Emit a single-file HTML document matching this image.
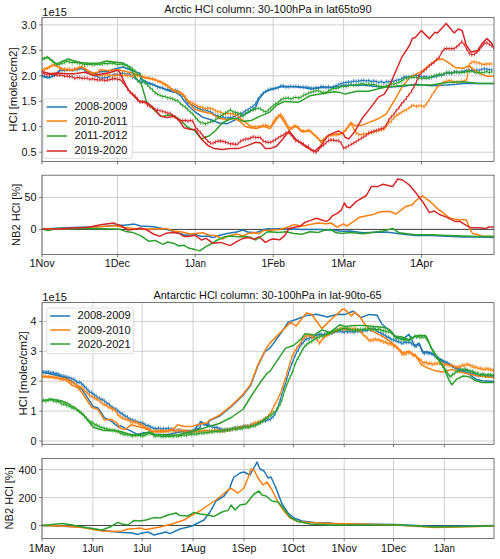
<!DOCTYPE html>
<html><head><meta charset="utf-8"><style>
html,body{margin:0;padding:0;background:#fff;width:500px;height:559px;overflow:hidden}
svg{display:block}
text{font-family:"Liberation Sans",sans-serif;font-size:10.3px;fill:#111}
</style></head><body>
<svg width="500" height="559" viewBox="0 0 500 559">
<rect width="500" height="559" fill="#fff"/>
<path d="M42 152.2H494M42 126.7H494M42 101.2H494M42 75.8H494M42 50.4H494M42 24.9H494M42 17.4V161.5M117.4 17.4V161.5M195.3 17.4V161.5M273.2 17.4V161.5M343.6 17.4V161.5M421.5 17.4V161.5" stroke="#c4c4c4" stroke-width="0.8" fill="none"/>
<clipPath id="c1"><rect x="42" y="17.4" width="452" height="144.1"/></clipPath><g clip-path="url(#c1)">
<path d="M42 76.2 48.4 77.8 54.8 75.4 59.6 70.6 66 69.8 74 69.8 82 68.2 86.8 70.6 94.8 73.8 100 71.8 108 71.4 112.8 69.4 123.2 67 128 69 133.6 71 140 73.4 140.8 79 147.2 82.2 155.2 85.4 163.2 88.6 169.6 91 176 92.6 180.8 95.8 184 100.6 188.8 106.2 195 111.8 203 117.4 211 119.8 219 123 227 123.8 235 119.8 243 115 249.4 111.8 255.8 107 259 99 263.8 92.9 270 89.7 281.2 86.5 294 86.8 302 87.3 311.6 88.9 321.2 87.5 330.8 87.5 340.4 86.2 345 85.3 364.6 85.3 384.3 87.2 403.9 86.3 415 84.2 431 85.8 447 85 456.6 84.2 463 83.4 479 83.4 493.7 83.4" stroke="#1f77b4" stroke-width="1.5" fill="none" stroke-linejoin="round" stroke-linecap="square"/>
<path d="M42 75.9 44.5 76.3 47 77.2 49.5 76.7 52.1 76.5 54.6 75.3 57.1 73.7 59.6 70.1 62.1 70.5 64.6 70.4 67.1 70.4 69.6 69.6 72.2 70.1 74.7 69.4 77.2 69.8 79.7 68.6 82.2 68.1 84.7 70.1 87.2 72.4 89.8 72.7 92.3 73.7 94.8 75.7 97.3 76.4 99.8 77.8 102.3 78.1 104.8 77.6 107.3 77.7 109.9 75.7 112.4 75.3 114.9 74.2 117.4 74.5 119.9 74.1 122.4 72.9 124.9 73.8 127.5 74.4 130 73.7 132.5 76.9 135 78 137.5 80.7 140 80.8 142.5 81.7 145 82.8 147.6 83.8 150.1 84 152.6 84.5 155.1 85.5 157.6 87 160.1 87.5 162.6 87.8 165.2 89.2 167.7 89.4 170.2 89.7 172.7 90.4 175.2 90.2 177.7 90.5 180.2 93.3 182.7 95 185.3 98.4 187.8 102.5 190.3 104 192.8 105.6 195.3 106.7 197.8 108 200.3 109.3 202.9 109.9 205.4 110.3 207.9 110.9 210.4 111.8 212.9 113.3 215.4 115.4 217.9 115.7 220.4 117.5 223 116.9 225.5 118.3 228 117.6 230.5 117.9 233 117.1 235.5 115.7 238 114.5 240.6 113.7 243.1 112.6 245.6 110.8 248.1 109.6 250.6 107.9 253.1 106.2 255.6 103.8 258.1 98.7 260.7 95.9 263.2 92.9 265.7 91.6 268.2 89.8 270.7 89.1 273.2 88.9 275.7 88.3 278.3 87.7 280.8 86 283.3 85.8 285.8 86.9 288.3 86.8 290.8 86.3 293.3 86.5 295.8 86.4 298.4 86.6 300.9 87.2 303.4 87.2 305.9 87 308.4 87.6 310.9 87.9 313.4 88.4 316 87.5 318.5 88 321 86.5 323.5 86.8 326 87.4 328.5 86.8 331 87.6 333.5 86.8 336.1 85.6 338.6 84.8 341.1 83.6 343.6 83 346.1 82.4 348.6 82.1 351.1 82 353.7 81 356.2 81.2 358.7 81.1 361.2 80.5 363.7 80.2 366.2 81.1 368.7 80.5 371.2 81.5 373.8 80.9 376.3 81.5 378.8 82.4 381.3 81.6 383.8 82.9 386.3 81.5 388.8 81.7 391.4 81.2 393.9 81.3 396.4 80.3 398.9 79.8 401.4 79 403.9 76.9 406.4 77.1 408.9 76.8 411.5 76.7 414 75.7 416.5 75.1 419 75.7 421.5 77.3 424 76.6 426.5 77.1 429.1 77.3 431.6 77.5 434.1 76.4 436.6 76.5 439.1 75 441.6 75.5 444.1 73.9 446.6 73.2 449.2 73.2 451.7 73.1 454.2 71.9 456.7 72.3 459.2 72.2 461.7 71.4 464.2 71.1 466.8 70.4 469.3 70.9 471.8 70 474.3 70.8 476.8 69.7 479.3 70.3 481.8 69.2 484.3 68.8 486.9 69.1 489.4 69.7 491.9 69.7" stroke="#1f77b4" stroke-width="1.1" fill="none" stroke-linejoin="round"/>
<path d="M42 73.9v4M44.5 74.3v4M47 75.2v4M49.5 74.7v4M52.1 74.5v4M54.6 73.3v4M57.1 71.7v4M59.6 68.1v4M62.1 68.5v4M64.6 68.4v4M67.1 68.4v4M69.6 67.6v4M72.2 68.1v4M74.7 67.4v4M77.2 67.8v4M79.7 66.6v4M82.2 66.1v4M84.7 68.1v4M87.2 70.4v4M89.8 70.7v4M92.3 71.7v4M94.8 73.7v4M97.3 74.4v4M99.8 75.8v4M102.3 76.1v4M104.8 75.6v4M107.3 75.7v4M109.9 73.7v4M112.4 73.3v4M114.9 72.2v4M117.4 72.5v4M119.9 72.1v4M122.4 70.9v4M124.9 71.8v4M127.5 72.4v4M130 71.7v4M132.5 74.9v4M135 76v4M137.5 78.7v4M140 78.8v4M142.5 79.7v4M145 80.8v4M147.6 81.8v4M150.1 82v4M152.6 82.5v4M155.1 83.5v4M157.6 85v4M160.1 85.5v4M162.6 85.8v4M165.2 87.2v4M167.7 87.4v4M170.2 87.7v4M172.7 88.4v4M175.2 88.2v4M177.7 88.5v4M180.2 91.3v4M182.7 93v4M185.3 96.4v4M187.8 100.5v4M190.3 102v4M192.8 103.6v4M195.3 104.7v4M197.8 106v4M200.3 107.3v4M202.9 107.9v4M205.4 108.3v4M207.9 108.9v4M210.4 109.8v4M212.9 111.3v4M215.4 113.4v4M217.9 113.7v4M220.4 115.5v4M223 114.9v4M225.5 116.3v4M228 115.6v4M230.5 115.9v4M233 115.1v4M235.5 113.7v4M238 112.5v4M240.6 111.7v4M243.1 110.6v4M245.6 108.8v4M248.1 107.6v4M250.6 105.9v4M253.1 104.2v4M255.6 101.8v4M258.1 96.7v4M260.7 93.9v4M263.2 90.9v4M265.7 89.6v4M268.2 87.8v4M270.7 87.1v4M273.2 86.9v4M275.7 86.3v4M278.3 85.7v4M280.8 84v4M283.3 83.8v4M285.8 84.9v4M288.3 84.8v4M290.8 84.3v4M293.3 84.5v4M295.8 84.4v4M298.4 84.6v4M300.9 85.2v4M303.4 85.2v4M305.9 85v4M308.4 85.6v4M310.9 85.9v4M313.4 86.4v4M316 85.5v4M318.5 86v4M321 84.5v4M323.5 84.8v4M326 85.4v4M328.5 84.8v4M331 85.6v4M333.5 84.8v4M336.1 83.6v4M338.6 82.8v4M341.1 81.6v4M343.6 81v4M346.1 80.4v4M348.6 80.1v4M351.1 80v4M353.7 79v4M356.2 79.2v4M358.7 79.1v4M361.2 78.5v4M363.7 78.2v4M366.2 79.1v4M368.7 78.5v4M371.2 79.5v4M373.8 78.9v4M376.3 79.5v4M378.8 80.4v4M381.3 79.6v4M383.8 80.9v4M386.3 79.5v4M388.8 79.7v4M391.4 79.2v4M393.9 79.3v4M396.4 78.3v4M398.9 77.8v4M401.4 77v4M403.9 74.9v4M406.4 75.1v4M408.9 74.8v4M411.5 74.7v4M414 73.7v4M416.5 73.1v4M419 73.7v4M421.5 75.3v4M424 74.6v4M426.5 75.1v4M429.1 75.3v4M431.6 75.5v4M434.1 74.4v4M436.6 74.5v4M439.1 73v4M441.6 73.5v4M444.1 71.9v4M446.6 71.2v4M449.2 71.2v4M451.7 71.1v4M454.2 69.9v4M456.7 70.3v4M459.2 70.2v4M461.7 69.4v4M464.2 69.1v4M466.8 68.4v4M469.3 68.9v4M471.8 68v4M474.3 68.8v4M476.8 67.7v4M479.3 68.3v4M481.8 67.2v4M484.3 66.8v4M486.9 67.1v4M489.4 67.7v4M491.9 67.7v4" stroke="#1f77b4" stroke-width="0.9" fill="none" stroke-opacity="0.85"/>
<path d="M42 70.6 46.8 68.2 53.2 65 58 66.6 62.8 69 69.2 70.3 75.6 69 82 66.6 86.8 69.8 91.6 73 98 72.2 100 69.8 108 70.6 117.6 69.8 124 71 132 73 140 75.8 144 77.4 152 79 160 81.4 166.4 84.6 172.8 90.2 180.8 92.6 185.6 98.2 190.4 104.6 195 109.4 203 111.8 211 113.4 219 118.2 227 119.8 233.4 118.2 239.8 121.4 246.2 127 255.8 128.6 263.8 126.2 270 128.6 279.6 115 289.2 130.2 295.6 126.2 302 131.8 310 131 321.2 141.4 329.2 135 340.4 133.4 345 131.4 350.9 122.6 354.8 125.6 360.7 125.6 368.6 122.6 378.4 118.7 386.3 113.8 394.1 101 402 87.2 409.8 77.4 415 74.6 423 70.6 429.4 65 435.8 60.2 442.2 58.9 448.6 62.6 455 67.4 463 68.2 469.4 65.8 474.2 69.8 480.6 73.8 487 76.2 493.7 76.2" stroke="#ff7f0e" stroke-width="1.5" fill="none" stroke-linejoin="round" stroke-linecap="square"/>
<path d="M42 69.9 44.5 69.2 47 68.6 49.5 67.2 52.1 65.4 54.6 65 57.1 65.8 59.6 68.1 62.1 69.3 64.6 69.2 67.1 69.3 69.6 69.6 72.2 70.2 74.7 69 77.2 68.5 79.7 67.2 82.2 67.3 84.7 68.2 87.2 70.7 89.8 72.3 92.3 73.6 94.8 74.2 97.3 74.7 99.8 75.7 102.3 74.8 104.8 75 107.3 74.8 109.9 75.3 112.4 76 114.9 75.4 117.4 75.3 119.9 74.9 122.4 76 124.9 75.2 127.5 75.6 130 75.8 132.5 76.3 135 75.8 137.5 75.5 140 75.7 142.5 76.6 145 77.2 147.6 77.6 150.1 78.3 152.6 78.9 155.1 79.5 157.6 81.2 160.1 81.9 162.6 83.3 165.2 85.1 167.7 86.3 170.2 87.6 172.7 90 175.2 91.1 177.7 92 180.2 93 182.7 94.1 185.3 96.9 187.8 100.7 190.3 102.1 192.8 103.6 195.3 104.5 197.8 106.2 200.3 107.2 202.9 107.4 205.4 108.9 207.9 107.8 210.4 108.8 212.9 108.9 215.4 110.8 217.9 111.6 220.4 111.9 223 113.6 225.5 113.9 228 113 230.5 113.9 233 113.9 235.5 114.3 238 115.9 240.6 118.5 243.1 120.6 245.6 122 248.1 124.5 250.6 126.5 253.1 126.6 255.6 126.7 258.1 126.4 260.7 126.4 263.2 125.3 265.7 125.2 268.2 125.9 270.7 126.9 273.2 121.8 275.7 118.2 278.3 116 280.8 114.4 283.3 117.6 285.8 122.1 288.3 126.8 290.8 128.3 293.3 126.6 295.8 125.6 298.4 127.3 300.9 130.4 303.4 130.9 305.9 131.3 308.4 130 310.9 131.5 313.4 134.2 316 136.4 318.5 138.8 321 142.5 323.5 140 326 137.7 328.5 136.1 331 135.4 333.5 134.8 336.1 135.1 338.6 134.6 341.1 134 343.6 131.8 346.1 129.5 348.6 126 351.1 123.5 353.7 128.7 356.2 133.1 358.7 134.4 361.2 134.7 363.7 133.7 366.2 134 368.7 133.6 371.2 132.5 373.8 131.9 376.3 131.2 378.8 129.5 381.3 130 383.8 129.2 386.3 126.7 388.8 122.8 391.4 121.1 393.9 117.9 396.4 115.3 398.9 114 401.4 112.5 403.9 110.8 406.4 109.9 408.9 108.2 411.5 106 414 105.4 416.5 106.4 419 105.7 421.5 105.8 424 106.8 426.5 103.9 429.1 100.1 431.6 95.7 434.1 91.9 436.6 88.2 439.1 85.3 441.6 83.8 444.1 81.5 446.6 81.2 449.2 80.5 451.7 81 454.2 81.8 456.7 82 459.2 81.7 461.7 81.3 464.2 80.9 466.8 79.6 469.3 64.5 471.8 62.1 474.3 61.7 476.8 62.8 479.3 63.1 481.8 64.3 484.3 64.4 486.9 63.9 489.4 64 491.9 64" stroke="#ff7f0e" stroke-width="1.1" fill="none" stroke-linejoin="round"/>
<path d="M42 67.9v4M44.5 67.2v4M47 66.6v4M49.5 65.2v4M52.1 63.4v4M54.6 63v4M57.1 63.8v4M59.6 66.1v4M62.1 67.3v4M64.6 67.2v4M67.1 67.3v4M69.6 67.6v4M72.2 68.2v4M74.7 67v4M77.2 66.5v4M79.7 65.2v4M82.2 65.3v4M84.7 66.2v4M87.2 68.7v4M89.8 70.3v4M92.3 71.6v4M94.8 72.2v4M97.3 72.7v4M99.8 73.7v4M102.3 72.8v4M104.8 73v4M107.3 72.8v4M109.9 73.3v4M112.4 74v4M114.9 73.4v4M117.4 73.3v4M119.9 72.9v4M122.4 74v4M124.9 73.2v4M127.5 73.6v4M130 73.8v4M132.5 74.3v4M135 73.8v4M137.5 73.5v4M140 73.7v4M142.5 74.6v4M145 75.2v4M147.6 75.6v4M150.1 76.3v4M152.6 76.9v4M155.1 77.5v4M157.6 79.2v4M160.1 79.9v4M162.6 81.3v4M165.2 83.1v4M167.7 84.3v4M170.2 85.6v4M172.7 88v4M175.2 89.1v4M177.7 90v4M180.2 91v4M182.7 92.1v4M185.3 94.9v4M187.8 98.7v4M190.3 100.1v4M192.8 101.6v4M195.3 102.5v4M197.8 104.2v4M200.3 105.2v4M202.9 105.4v4M205.4 106.9v4M207.9 105.8v4M210.4 106.8v4M212.9 106.9v4M215.4 108.8v4M217.9 109.6v4M220.4 109.9v4M223 111.6v4M225.5 111.9v4M228 111v4M230.5 111.9v4M233 111.9v4M235.5 112.3v4M238 113.9v4M240.6 116.5v4M243.1 118.6v4M245.6 120v4M248.1 122.5v4M250.6 124.5v4M253.1 124.6v4M255.6 124.7v4M258.1 124.4v4M260.7 124.4v4M263.2 123.3v4M265.7 123.2v4M268.2 123.9v4M270.7 124.9v4M273.2 119.8v4M275.7 116.2v4M278.3 114v4M280.8 112.4v4M283.3 115.6v4M285.8 120.1v4M288.3 124.8v4M290.8 126.3v4M293.3 124.6v4M295.8 123.6v4M298.4 125.3v4M300.9 128.4v4M303.4 128.9v4M305.9 129.3v4M308.4 128v4M310.9 129.5v4M313.4 132.2v4M316 134.4v4M318.5 136.8v4M321 140.5v4M323.5 138v4M326 135.7v4M328.5 134.1v4M331 133.4v4M333.5 132.8v4M336.1 133.1v4M338.6 132.6v4M341.1 132v4M343.6 129.8v4M346.1 127.5v4M348.6 124v4M351.1 121.5v4M353.7 126.7v4M356.2 131.1v4M358.7 132.4v4M361.2 132.7v4M363.7 131.7v4M366.2 132v4M368.7 131.6v4M371.2 130.5v4M373.8 129.9v4M376.3 129.2v4M378.8 127.5v4M381.3 128v4M383.8 127.2v4M386.3 124.7v4M388.8 120.8v4M391.4 119.1v4M393.9 115.9v4M396.4 113.3v4M398.9 112v4M401.4 110.5v4M403.9 108.8v4M406.4 107.9v4M408.9 106.2v4M411.5 104v4M414 103.4v4M416.5 104.4v4M419 103.7v4M421.5 103.8v4M424 104.8v4M426.5 101.9v4M429.1 98.1v4M431.6 93.7v4M434.1 89.9v4M436.6 86.2v4M439.1 83.3v4M441.6 81.8v4M444.1 79.5v4M446.6 79.2v4M449.2 78.5v4M451.7 79v4M454.2 79.8v4M456.7 80v4M459.2 79.7v4M461.7 79.3v4M464.2 78.9v4M466.8 77.6v4M469.3 62.5v4M471.8 60.1v4M474.3 59.7v4M476.8 60.8v4M479.3 61.1v4M481.8 62.3v4M484.3 62.4v4M486.9 61.9v4M489.4 62v4M491.9 62v4" stroke="#ff7f0e" stroke-width="0.9" fill="none" stroke-opacity="0.85"/>
<path d="M42 59.4 47.6 57 51.6 60.2 56.4 64.2 61.2 61.8 68.4 59 74 61 80.4 62.6 90 63.4 100 63 106.4 61 116 62.2 123.2 63 128 66.2 132 71 136 78.2 140 83 140.8 82.2 144 93.4 146.4 101.4 152 107.8 158.4 114.2 162.4 116.6 168 115 174.4 115.8 180.8 120.6 187.2 127 193.6 130.2 195 131 201.4 139 209.4 135.8 215.8 130.2 222.2 123 230.2 119 236.6 118.2 243 121.4 251 120.6 259 116.6 267 113.4 270 111.8 276.4 105.4 284.4 101.4 298.8 102.2 310 95.8 322.8 93.4 334 91.8 340.4 92.6 345 94.1 356.8 91.2 368.6 91.2 384.3 87.2 403.9 85.3 415 85 431 85 447 82.6 463 81.8 479 83.4 493.7 83.4" stroke="#2ca02c" stroke-width="1.5" fill="none" stroke-linejoin="round" stroke-linecap="square"/>
<path d="M42 58.7 44.5 58.4 47 57.6 49.5 58.8 52.1 61.2 54.6 63.3 57.1 64.4 59.6 64.1 62.1 63.4 64.6 62.4 67.1 61.3 69.6 61.9 72.2 62.7 74.7 62.1 77.2 62.8 79.7 63.3 82.2 63.8 84.7 64.8 87.2 64.4 89.8 64.3 92.3 64.8 94.8 64.6 97.3 64.2 99.8 64 102.3 64.1 104.8 63.2 107.3 63.7 109.9 62.9 112.4 63.1 114.9 63.8 117.4 64.5 119.9 64.3 122.4 64.3 124.9 65.3 127.5 65.8 130 67.1 132.5 68.8 135 71.2 137.5 74 140 74.4 142.5 80.4 145 82.3 147.6 85.2 150.1 88 152.6 89.9 155.1 92.8 157.6 94.2 160.1 95.3 162.6 96.4 165.2 96.5 167.7 97.9 170.2 98 172.7 98.8 175.2 100.2 177.7 100.7 180.2 103.3 182.7 105.5 185.3 107 187.8 109.5 190.3 112.1 192.8 113.8 195.3 117.5 197.8 119.9 200.3 122.7 202.9 122.8 205.4 124 207.9 122.9 210.4 121.7 212.9 121.7 215.4 119.9 217.9 117.8 220.4 116 223 114.7 225.5 112.9 228 111.4 230.5 109.7 233 111.8 235.5 112.4 238 113.1 240.6 114.2 243.1 116.2 245.6 113.5 248.1 111.9 250.6 110.8 253.1 110.1 255.6 109.1 258.1 108.3 260.7 109 263.2 110.9 265.7 112 268.2 110.1 270.7 107.9 273.2 105.6 275.7 103.8 278.3 102.5 280.8 99.9 283.3 98.5 285.8 98.2 288.3 97.9 290.8 99 293.3 98 295.8 97.3 298.4 98 300.9 97.3 303.4 95.2 305.9 94.6 308.4 93.3 310.9 92.2 313.4 91.6 316 90.7 318.5 90.7 321 91.8 323.5 92.7 326 92.4 328.5 91 331 89.5 333.5 88.3 336.1 88.5 338.6 87.7 341.1 86.6 343.6 86.3 346.1 86.8 348.6 85.6 351.1 84.7 353.7 85.3 356.2 84.7 358.7 84.8 361.2 83.6 363.7 83.9 366.2 84.7 368.7 84 371.2 84.5 373.8 84.3 376.3 85.4 378.8 86.2 381.3 86.4 383.8 86.7 386.3 85.7 388.8 85.1 391.4 83.9 393.9 84 396.4 83.3 398.9 82.2 401.4 81.3 403.9 79 406.4 77.9 408.9 78 411.5 77 414 77.3 416.5 77 419 78.3 421.5 78.2 424 78 426.5 78.4 429.1 78 431.6 76.6 434.1 76 436.6 75.1 439.1 74.4 441.6 74.7 444.1 74 446.6 72.4 449.2 72.2 451.7 73.2 454.2 72.4 456.7 71.6 459.2 72.7 461.7 72.4 464.2 72.5 466.8 71.4 469.3 71.3 471.8 71.3 474.3 72.1 476.8 72.7 479.3 72.6 481.8 72.7 484.3 72.2 486.9 71.6 489.4 72.7 491.9 71.8" stroke="#2ca02c" stroke-width="1.1" fill="none" stroke-linejoin="round"/>
<path d="M42 56.7v4M44.5 56.4v4M47 55.6v4M49.5 56.8v4M52.1 59.2v4M54.6 61.3v4M57.1 62.4v4M59.6 62.1v4M62.1 61.4v4M64.6 60.4v4M67.1 59.3v4M69.6 59.9v4M72.2 60.7v4M74.7 60.1v4M77.2 60.8v4M79.7 61.3v4M82.2 61.8v4M84.7 62.8v4M87.2 62.4v4M89.8 62.3v4M92.3 62.8v4M94.8 62.6v4M97.3 62.2v4M99.8 62v4M102.3 62.1v4M104.8 61.2v4M107.3 61.7v4M109.9 60.9v4M112.4 61.1v4M114.9 61.8v4M117.4 62.5v4M119.9 62.3v4M122.4 62.3v4M124.9 63.3v4M127.5 63.8v4M130 65.1v4M132.5 66.8v4M135 69.2v4M137.5 72v4M140 72.4v4M142.5 78.4v4M145 80.3v4M147.6 83.2v4M150.1 86v4M152.6 87.9v4M155.1 90.8v4M157.6 92.2v4M160.1 93.3v4M162.6 94.4v4M165.2 94.5v4M167.7 95.9v4M170.2 96v4M172.7 96.8v4M175.2 98.2v4M177.7 98.7v4M180.2 101.3v4M182.7 103.5v4M185.3 105v4M187.8 107.5v4M190.3 110.1v4M192.8 111.8v4M195.3 115.5v4M197.8 117.9v4M200.3 120.7v4M202.9 120.8v4M205.4 122v4M207.9 120.9v4M210.4 119.7v4M212.9 119.7v4M215.4 117.9v4M217.9 115.8v4M220.4 114v4M223 112.7v4M225.5 110.9v4M228 109.4v4M230.5 107.7v4M233 109.8v4M235.5 110.4v4M238 111.1v4M240.6 112.2v4M243.1 114.2v4M245.6 111.5v4M248.1 109.9v4M250.6 108.8v4M253.1 108.1v4M255.6 107.1v4M258.1 106.3v4M260.7 107v4M263.2 108.9v4M265.7 110v4M268.2 108.1v4M270.7 105.9v4M273.2 103.6v4M275.7 101.8v4M278.3 100.5v4M280.8 97.9v4M283.3 96.5v4M285.8 96.2v4M288.3 95.9v4M290.8 97v4M293.3 96v4M295.8 95.3v4M298.4 96v4M300.9 95.3v4M303.4 93.2v4M305.9 92.6v4M308.4 91.3v4M310.9 90.2v4M313.4 89.6v4M316 88.7v4M318.5 88.7v4M321 89.8v4M323.5 90.7v4M326 90.4v4M328.5 89v4M331 87.5v4M333.5 86.3v4M336.1 86.5v4M338.6 85.7v4M341.1 84.6v4M343.6 84.3v4M346.1 84.8v4M348.6 83.6v4M351.1 82.7v4M353.7 83.3v4M356.2 82.7v4M358.7 82.8v4M361.2 81.6v4M363.7 81.9v4M366.2 82.7v4M368.7 82v4M371.2 82.5v4M373.8 82.3v4M376.3 83.4v4M378.8 84.2v4M381.3 84.4v4M383.8 84.7v4M386.3 83.7v4M388.8 83.1v4M391.4 81.9v4M393.9 82v4M396.4 81.3v4M398.9 80.2v4M401.4 79.3v4M403.9 77v4M406.4 75.9v4M408.9 76v4M411.5 75v4M414 75.3v4M416.5 75v4M419 76.3v4M421.5 76.2v4M424 76v4M426.5 76.4v4M429.1 76v4M431.6 74.6v4M434.1 74v4M436.6 73.1v4M439.1 72.4v4M441.6 72.7v4M444.1 72v4M446.6 70.4v4M449.2 70.2v4M451.7 71.2v4M454.2 70.4v4M456.7 69.6v4M459.2 70.7v4M461.7 70.4v4M464.2 70.5v4M466.8 69.4v4M469.3 69.3v4M471.8 69.3v4M474.3 70.1v4M476.8 70.7v4M479.3 70.6v4M481.8 70.7v4M484.3 70.2v4M486.9 69.6v4M489.4 70.7v4M491.9 69.8v4" stroke="#2ca02c" stroke-width="0.9" fill="none" stroke-opacity="0.85"/>
<path d="M42 71.4 50 73.8 58 73 66 73.8 74 73.8 85.2 72.2 93.2 75.4 100 74.2 108 73 117.6 70.2 120 72.6 122.4 78.2 125.6 84.6 128.8 90.2 132 94.2 134.4 96.6 139.2 101.4 144 101.4 148.8 103.8 155.2 109.4 160 115.8 166.4 117.4 174.4 116.6 179.2 120.6 184 127.8 190.4 129.4 195 129.4 201.4 139 207.8 145.4 214.2 148.6 222.2 149.4 230.2 148.6 238.2 148.6 247.8 145.4 255.8 142.2 260.6 143 265.4 148.6 270 148.6 276.4 146.2 282.8 139 289.2 131 295.6 139 303.6 145.4 310 149.4 314.8 151 321.2 145.4 327.6 135.8 334 132.6 338.8 131 343.6 134.2 345 137.3 348.9 138.9 354.8 131.4 362.7 117.7 370.5 107.9 378.4 97.1 384.3 94.1 390.2 84.3 396.1 70.5 402 56.8 409.8 45 412.4 38.2 415 37.8 421.4 30.6 429.4 38.6 435 32.2 437.4 33 446.2 23.4 454.2 33 458.2 29 462.2 30.6 466.2 45 471 52.2 477.4 50.6 482.2 43.4 487 38.6 491.8 43.4 493.7 48.2" stroke="#d62728" stroke-width="1.5" fill="none" stroke-linejoin="round" stroke-linecap="square"/>
<path d="M42 72.5 44.5 74 47 74.5 49.5 74.7 52.1 74.3 54.6 74.4 57.1 75.2 59.6 75.1 62.1 75.3 64.6 76.1 67.1 76.2 69.6 76.6 72.2 76.8 74.7 78.4 77.2 77.4 79.7 77.7 82.2 78.4 84.7 78.2 87.2 78.3 89.8 79.4 92.3 78.7 94.8 79.4 97.3 79.9 99.8 80 102.3 79.8 104.8 80.6 107.3 80.1 109.9 79.6 112.4 78.9 114.9 78.6 117.4 79.3 119.9 79.4 122.4 82.1 124.9 84.9 127.5 89 130 92.1 132.5 93.9 135 95.9 137.5 98.9 140 102 142.5 102.1 145 102.4 147.6 105.1 150.1 106.6 152.6 107.7 155.1 109.9 157.6 110 160.1 110.8 162.6 111.3 165.2 112.3 167.7 113.2 170.2 113.3 172.7 115.3 175.2 117 177.7 118.8 180.2 120.4 182.7 120.6 185.3 120.4 187.8 121 190.3 120.5 192.8 121 195.3 127 197.8 129.8 200.3 132.3 202.9 135.6 205.4 138 207.9 141.3 210.4 143 212.9 143.3 215.4 142.1 217.9 141.1 220.4 140.9 223 141.4 225.5 142.1 228 142.9 230.5 143.9 233 143.9 235.5 144.4 238 144 240.6 141.2 243.1 140 245.6 139 248.1 138.9 250.6 138 253.1 136.7 255.6 137.5 258.1 137.2 260.7 137.8 263.2 140.9 265.7 141.9 268.2 142.4 270.7 142.3 273.2 140.9 275.7 139.7 278.3 137.6 280.8 136.3 283.3 135.3 285.8 133 288.3 132.4 290.8 134.6 293.3 137.6 295.8 140.8 298.4 141.3 300.9 142.5 303.4 144 305.9 146.1 308.4 146.5 310.9 149.6 313.4 151.5 316 152.3 318.5 149.8 321 146.6 323.5 145 326 142.8 328.5 140.6 331 139.9 333.5 140.1 336.1 140.8 338.6 140.6 341.1 142.9 343.6 148.1 346.1 147.4 348.6 145.9 351.1 144.4 353.7 143 356.2 141.5 358.7 139.9 361.2 138.5 363.7 136.7 366.2 135.4 368.7 132.9 371.2 132.3 373.8 131.2 376.3 130.5 378.8 130 381.3 128.6 383.8 128 386.3 124.6 388.8 120.1 391.4 116.6 393.9 114.3 396.4 110.4 398.9 107.9 401.4 103.9 403.9 101.5 406.4 98 408.9 94.8 411.5 91.2 414 86.8 416.5 81.7 419 75.8 421.5 72.8 424 70.7 426.5 68.6 429.1 65.9 431.6 64 434.1 62.5 436.6 59.5 439.1 57.5 441.6 52.6 444.1 49.1 446.6 48.4 449.2 48.8 451.7 48.6 454.2 48.6 456.7 46.8 459.2 44.5 461.7 41.7 464.2 44.5 466.8 49.3 469.3 53.7 471.8 54.8 474.3 54.3 476.8 52.3 479.3 49.7 481.8 46.4 484.3 43.3 486.9 42.9 489.4 44.4 491.9 46" stroke="#d62728" stroke-width="1.1" fill="none" stroke-linejoin="round"/>
<path d="M42 70.5v4M44.5 72v4M47 72.5v4M49.5 72.7v4M52.1 72.3v4M54.6 72.4v4M57.1 73.2v4M59.6 73.1v4M62.1 73.3v4M64.6 74.1v4M67.1 74.2v4M69.6 74.6v4M72.2 74.8v4M74.7 76.4v4M77.2 75.4v4M79.7 75.7v4M82.2 76.4v4M84.7 76.2v4M87.2 76.3v4M89.8 77.4v4M92.3 76.7v4M94.8 77.4v4M97.3 77.9v4M99.8 78v4M102.3 77.8v4M104.8 78.6v4M107.3 78.1v4M109.9 77.6v4M112.4 76.9v4M114.9 76.6v4M117.4 77.3v4M119.9 77.4v4M122.4 80.1v4M124.9 82.9v4M127.5 87v4M130 90.1v4M132.5 91.9v4M135 93.9v4M137.5 96.9v4M140 100v4M142.5 100.1v4M145 100.4v4M147.6 103.1v4M150.1 104.6v4M152.6 105.7v4M155.1 107.9v4M157.6 108v4M160.1 108.8v4M162.6 109.3v4M165.2 110.3v4M167.7 111.2v4M170.2 111.3v4M172.7 113.3v4M175.2 115v4M177.7 116.8v4M180.2 118.4v4M182.7 118.6v4M185.3 118.4v4M187.8 119v4M190.3 118.5v4M192.8 119v4M195.3 125v4M197.8 127.8v4M200.3 130.3v4M202.9 133.6v4M205.4 136v4M207.9 139.3v4M210.4 141v4M212.9 141.3v4M215.4 140.1v4M217.9 139.1v4M220.4 138.9v4M223 139.4v4M225.5 140.1v4M228 140.9v4M230.5 141.9v4M233 141.9v4M235.5 142.4v4M238 142v4M240.6 139.2v4M243.1 138v4M245.6 137v4M248.1 136.9v4M250.6 136v4M253.1 134.7v4M255.6 135.5v4M258.1 135.2v4M260.7 135.8v4M263.2 138.9v4M265.7 139.9v4M268.2 140.4v4M270.7 140.3v4M273.2 138.9v4M275.7 137.7v4M278.3 135.6v4M280.8 134.3v4M283.3 133.3v4M285.8 131v4M288.3 130.4v4M290.8 132.6v4M293.3 135.6v4M295.8 138.8v4M298.4 139.3v4M300.9 140.5v4M303.4 142v4M305.9 144.1v4M308.4 144.5v4M310.9 147.6v4M313.4 149.5v4M316 150.3v4M318.5 147.8v4M321 144.6v4M323.5 143v4M326 140.8v4M328.5 138.6v4M331 137.9v4M333.5 138.1v4M336.1 138.8v4M338.6 138.6v4M341.1 140.9v4M343.6 146.1v4M346.1 145.4v4M348.6 143.9v4M351.1 142.4v4M353.7 141v4M356.2 139.5v4M358.7 137.9v4M361.2 136.5v4M363.7 134.7v4M366.2 133.4v4M368.7 130.9v4M371.2 130.3v4M373.8 129.2v4M376.3 128.5v4M378.8 128v4M381.3 126.6v4M383.8 126v4M386.3 122.6v4M388.8 118.1v4M391.4 114.6v4M393.9 112.3v4M396.4 108.4v4M398.9 105.9v4M401.4 101.9v4M403.9 99.5v4M406.4 96v4M408.9 92.8v4M411.5 89.2v4M414 84.8v4M416.5 79.7v4M419 73.8v4M421.5 70.8v4M424 68.7v4M426.5 66.6v4M429.1 63.9v4M431.6 62v4M434.1 60.5v4M436.6 57.5v4M439.1 55.5v4M441.6 50.6v4M444.1 47.1v4M446.6 46.4v4M449.2 46.8v4M451.7 46.6v4M454.2 46.6v4M456.7 44.8v4M459.2 42.5v4M461.7 39.7v4M464.2 42.5v4M466.8 47.3v4M469.3 51.7v4M471.8 52.8v4M474.3 52.3v4M476.8 50.3v4M479.3 47.7v4M481.8 44.4v4M484.3 41.3v4M486.9 40.9v4M489.4 42.4v4M491.9 44v4" stroke="#d62728" stroke-width="0.9" fill="none" stroke-opacity="0.85"/>
</g>
<rect x="42" y="17.4" width="452" height="144.1" fill="none" stroke="#555" stroke-width="0.8"/>
<path d="M39.2 152.2H42M39.2 126.7H42M39.2 101.2H42M39.2 75.8H42M39.2 50.4H42M39.2 24.9H42M42 161.5V164.3M117.4 161.5V164.3M195.3 161.5V164.3M273.2 161.5V164.3M343.6 161.5V164.3M421.5 161.5V164.3" stroke="#555" stroke-width="0.8" fill="none"/>
<text x="36.4" y="156.2" text-anchor="end" textLength="14.9" lengthAdjust="spacingAndGlyphs">0.5</text>
<text x="36.4" y="130.7" text-anchor="end" textLength="14.9" lengthAdjust="spacingAndGlyphs">1.0</text>
<text x="36.4" y="105.2" text-anchor="end" textLength="14.9" lengthAdjust="spacingAndGlyphs">1.5</text>
<text x="36.4" y="79.8" text-anchor="end" textLength="14.9" lengthAdjust="spacingAndGlyphs">2.0</text>
<text x="36.4" y="54.4" text-anchor="end" textLength="14.9" lengthAdjust="spacingAndGlyphs">2.5</text>
<text x="36.4" y="28.9" text-anchor="end" textLength="14.9" lengthAdjust="spacingAndGlyphs">3.0</text>
<text x="42.3" y="15.6" text-anchor="start" textLength="24.6" lengthAdjust="spacingAndGlyphs">1e15</text>
<text x="267.9" y="12.8" text-anchor="middle" textLength="207.4" lengthAdjust="spacingAndGlyphs">Arctic HCl column: 30-100hPa in lat65to90</text>
<text x="17.2" y="89.5" text-anchor="middle" textLength="84.4" lengthAdjust="spacingAndGlyphs" transform="rotate(-90 17.2 89.5)">HCl [molec/cm2]</text>
<rect x="43.2" y="98.8" width="89" height="59.6" rx="2" ry="2" fill="#fff" fill-opacity="0.8" stroke="#d6d6d6" stroke-width="0.8"/>
<path d="M46.6 107H67" stroke="#1f77b4" stroke-width="1.5"/>
<text x="74.4" y="110.1" text-anchor="start" textLength="53.1" lengthAdjust="spacingAndGlyphs">2008-2009</text>
<path d="M46.6 121H67" stroke="#ff7f0e" stroke-width="1.5"/>
<text x="74.4" y="124.8" text-anchor="start" textLength="53.1" lengthAdjust="spacingAndGlyphs">2010-2011</text>
<path d="M46.6 136H67" stroke="#2ca02c" stroke-width="1.5"/>
<text x="74.4" y="139.4" text-anchor="start" textLength="53.1" lengthAdjust="spacingAndGlyphs">2011-2012</text>
<path d="M46.6 151H67" stroke="#d62728" stroke-width="1.5"/>
<text x="74.4" y="154.1" text-anchor="start" textLength="53.1" lengthAdjust="spacingAndGlyphs">2019-2020</text>
<path d="M42 229.4H494M42 197.4H494M42 175.2V254.4M117.4 175.2V254.4M195.3 175.2V254.4M273.2 175.2V254.4M343.6 175.2V254.4M421.5 175.2V254.4" stroke="#c4c4c4" stroke-width="0.8" fill="none"/>
<path d="M42 229.4H494" stroke="#444" stroke-width="1"/>
<clipPath id="c2"><rect x="42" y="175.2" width="452" height="79.2"/></clipPath><g clip-path="url(#c2)">
<path d="M42 229 72 227.5 102 226.6 115 225.2 124.6 225.2 134.2 224.1 140.6 226 153.4 226.8 166.2 229.2 171 230.8 179 233.2 185.4 235.3 195 234.4 201.4 236.5 207.8 236 213.4 237.6 219 235.5 227 233.6 236.6 232 243 230.1 247.8 232 255.8 232.8 263.8 229.6 268.6 228.8 270 229.1 286 228.6 302 229.4 318 229.4 334 230.2 342 231.3 350 231 363 232.8 386.1 232.1 399.3 233.7 415 235.5 431 235.5 447 236.3 463 237.1 479 237.1 493.7 237.4" stroke="#1f77b4" stroke-width="1.5" fill="none" stroke-linejoin="round" stroke-linecap="square"/>
<path d="M42 229 72 228.4 102 226.6 115 225.7 124.6 227.6 134.2 228.4 147 228.9 159.8 228.9 166.2 228.4 172.6 230.8 182.2 232.1 190.2 234 195 233.6 203 232.8 209.4 235.2 215.8 235.5 222.2 239.2 228.6 236 236.6 233.9 243 236 247.8 233.6 254.2 232.8 259 233.6 263.8 230.4 270 230.2 279.6 229.4 286 227.8 294 224.6 302 226.2 310 224.6 318 223 326 223.8 330.8 223 337.2 227 343.6 223.8 346.8 226.2 350 223.8 359.7 217.2 372.9 214.6 379.5 212 389.4 211.3 396 214 405.9 206.4 412.5 204.7 415 201.4 422.2 195.8 431 202.2 437.4 208.6 443.8 213.4 448.6 217.4 456.6 219.8 466.2 219.8 469.4 227.8 472.6 233.4 479 235 483.8 236.6 493.7 236.6" stroke="#ff7f0e" stroke-width="1.5" fill="none" stroke-linejoin="round" stroke-linecap="square"/>
<path d="M42 229 48 230.5 57 228.4 87 228.4 115 228.9 119.8 229.2 126.2 231.6 132.6 232.4 140.6 235.6 148.6 241.2 155 240.4 163 244.4 167.8 242 174.2 243.6 179 246 183.8 245.2 188.6 248.1 195 249.6 199.8 250.9 206.2 246.4 211 244 217.4 240 223.8 237.1 230.2 236 238.2 236.8 246.2 236.5 251 237.6 255.8 240 260.6 236.8 267 232 270 231.8 278 232.6 286 231.8 294 233.4 302 234.2 310 231.8 318 232.6 324.4 230.2 330.8 229.4 335.6 232.6 342 233.4 350 232.6 363 233.7 382.8 231.1 392.7 228.5 399.3 232.8 415 234.7 431 234.7 447 235.5 463 236.1 479 236.4 493.7 236.3" stroke="#2ca02c" stroke-width="1.5" fill="none" stroke-linejoin="round" stroke-linecap="square"/>
<path d="M42 229 57 229 72 228 87 227.5 102 224.5 114 223 115 223.6 121.4 226 127.8 230 134.2 229.2 140.6 227.9 147 230 153.4 234 159.8 236.4 166.2 233.2 172.6 232.4 179 233.2 183.8 236.4 188.6 236.4 195 235.2 201.4 240 206.2 238.4 212.6 243.2 220.6 242.4 230.2 245.6 236.6 241.6 243 238.4 249.4 237.6 254.2 239.2 259 236.8 265.4 242.4 270 239.8 273.2 239 279.6 239.8 284.4 235.8 289.2 228.6 295.6 227 300.4 226.2 305.2 222.2 310 220.6 316.4 218.2 321.2 219.8 326 221.4 329.2 219.8 332.4 215.8 337.2 213.4 341.2 210.2 344.4 203 346.8 207 350 207.8 356.4 201.4 366.3 195.5 371.3 186.6 377.9 186.6 382.8 184.2 392.7 186.6 397.7 179 402.6 180 409.2 184.9 415 191.8 423 202.2 429.4 212.6 434.2 211 439 214.2 447 217.4 455 221.4 459.8 221.4 466.2 225.4 471 227.8 479 227.8 485.4 228.6 488.6 227 493.7 227" stroke="#d62728" stroke-width="1.5" fill="none" stroke-linejoin="round" stroke-linecap="square"/>
</g>
<rect x="42" y="175.2" width="452" height="79.2" fill="none" stroke="#555" stroke-width="0.8"/>
<path d="M39.2 229.4H42M39.2 197.4H42M42 254.4V257.2M117.4 254.4V257.2M195.3 254.4V257.2M273.2 254.4V257.2M343.6 254.4V257.2M421.5 254.4V257.2" stroke="#555" stroke-width="0.8" fill="none"/>
<text x="36.4" y="233.4" text-anchor="end" textLength="6" lengthAdjust="spacingAndGlyphs">0</text>
<text x="36.4" y="201.4" text-anchor="end" textLength="12" lengthAdjust="spacingAndGlyphs">50</text>
<text x="42" y="267.4" text-anchor="middle" textLength="25.2" lengthAdjust="spacingAndGlyphs">1Nov</text>
<text x="117.4" y="267.4" text-anchor="middle" textLength="25.1" lengthAdjust="spacingAndGlyphs">1Dec</text>
<text x="195.3" y="267.4" text-anchor="middle" textLength="21.2" lengthAdjust="spacingAndGlyphs">1Jan</text>
<text x="273.2" y="267.4" text-anchor="middle" textLength="23.5" lengthAdjust="spacingAndGlyphs">1Feb</text>
<text x="343.6" y="267.4" text-anchor="middle" textLength="24.6" lengthAdjust="spacingAndGlyphs">1Mar</text>
<text x="421.5" y="267.4" text-anchor="middle" textLength="23.1" lengthAdjust="spacingAndGlyphs">1Apr</text>
<text x="20.4" y="214.8" text-anchor="middle" textLength="62.3" lengthAdjust="spacingAndGlyphs" transform="rotate(-90 20.4 214.8)">NB2 HCl [%]</text>
<path d="M42 441H494M42 411.1H494M42 381.2H494M42 351.3H494M42 321.4H494M42 302.6V444.3M92.9 302.6V444.3M142.2 302.6V444.3M193.1 302.6V444.3M244 302.6V444.3M293.3 302.6V444.3M344.2 302.6V444.3M393.5 302.6V444.3M444.4 302.6V444.3" stroke="#c4c4c4" stroke-width="0.8" fill="none"/>
<clipPath id="c3"><rect x="42" y="302.6" width="452" height="141.7"/></clipPath><g clip-path="url(#c3)">
<path d="M42 372 66 377.6 74 383.2 82 389.6 88.4 399.2 93.2 406.4 98 408 104.4 417.6 110.8 420.8 118.8 427.2 120 425.6 128 429.6 137.6 434.4 144 432.8 148.8 432.8 155.2 434.4 168 434.4 176 432.8 184 431.2 192 430.4 200 428 201 421.5 207 426 209.5 420.6 219.2 416.3 231.2 406.6 243.3 395 250.6 385.4 257.8 366 265 351.5 270 348.1 280.4 333.8 288.2 322.1 296 319.5 306.4 315.6 316.8 314.3 327.1 316.9 337.5 314.3 345 314.4 353 311.2 361 317.6 369 314.4 377 315.2 381.8 324 386.6 328 391.4 332 396.2 337.6 402.6 339.2 409 334.4 413.8 344 415 345.6 419 343.2 423 352 427.8 352 434.2 354.4 439 358.4 447 363.2 455 368 463 371.2 469.4 374.4 475.8 379.2 482.2 380.8 493.7 381.6" stroke="#1f77b4" stroke-width="1.5" fill="none" stroke-linejoin="round" stroke-linecap="square"/>
<path d="M42 371.7 43.6 372.2 45.3 372.1 46.9 371.9 48.6 372 50.2 372.6 51.9 372.8 53.5 373 55.1 373.5 56.8 373.6 58.4 374.3 60.1 375.1 61.7 376.1 63.4 376.2 65 376.4 66.6 377.1 68.3 377.5 69.9 377.9 71.6 378.9 73.2 379.2 74.8 379.9 76.5 381.8 78.1 382.6 79.8 382.2 81.4 383.4 83.1 385 84.7 386.7 86.3 388.2 88 390.1 89.6 392.1 91.3 392.4 92.9 393.7 94.6 395.2 96.2 395.9 97.8 398 99.5 398.3 101.1 399.3 102.8 399.8 104.4 400.9 106.1 402.4 107.7 403.7 109.3 404.1 111 406.5 112.6 407.4 114.3 408.4 115.9 409.1 117.6 410.7 119.2 411.9 120.8 413.4 122.5 413.7 124.1 415.6 125.8 416.3 127.4 416.8 129 418.8 130.7 419.6 132.3 419.8 134 420.5 135.6 421.3 137.3 421.8 138.9 422.6 140.5 422.6 142.2 423.2 143.8 423.4 145.5 425.3 147.1 425.8 148.8 425.7 150.4 427 152 427.5 153.7 428.4 155.3 428.5 157 428.9 158.6 428.1 160.3 428.8 161.9 429.5 163.5 428.5 165.2 429.1 166.8 428.8 168.5 428.3 170.1 429.2 171.8 429 173.4 429.7 175 430.6 176.7 430.8 178.3 430.2 180 430.3 181.6 431.4 183.3 431.7 184.9 431.9 186.5 431.7 188.2 431.2 189.8 432 191.5 432.5 193.1 430.8 194.7 429.8 196.4 426.9 198 425.5 199.7 423.3 201.3 422.8 203 423.9 204.6 424.2 206.2 424.7 207.9 424.7 209.5 425.8 211.2 426.4 212.8 426.9 214.5 427.7 216.1 427.2 217.7 427.7 219.4 428.8 221 428.9 222.7 429.8 224.3 429.7 226 429.8 227.6 429.8 229.2 429.5 230.9 429.4 232.5 429.4 234.2 428.1 235.8 427.8 237.5 427.6 239.1 428.1 240.7 427.3 242.4 426.8 244 426.3 245.7 426.5 247.3 426.2 248.9 426.4 250.6 424.9 252.2 424.9 253.9 423.9 255.5 424 257.2 423.9 258.8 422.3 260.4 422.8 262.1 421.2 263.7 420.7 265.4 420.9 267 420.3 268.7 419.2 270.3 419.5 271.9 417.6 273.6 416.3 275.2 413.7 276.9 409.7 278.5 404.9 280.2 400 281.8 394.6 283.4 389.3 285.1 384.7 286.7 379.3 288.4 373.5 290 368.7 291.7 364.2 293.3 360.1 294.9 356.2 296.6 352.3 298.2 350 299.9 346.2 301.5 344 303.1 342.8 304.8 340.1 306.4 338.8 308.1 338.8 309.7 338.1 311.4 337.3 313 337.2 314.6 336.3 316.3 334.8 317.9 335.3 319.6 334.3 321.2 334 322.9 335 324.5 334.3 326.1 334 327.8 333.2 329.4 333.2 331.1 333.1 332.7 332.8 334.4 331.7 336 331.5 337.6 330.9 339.3 331.1 340.9 331.4 342.6 331.5 344.2 332.4 345.9 331.3 347.5 331.9 349.1 331.5 350.8 331.8 352.4 331.6 354.1 332 355.7 331.2 357.4 331.3 359 331.2 360.6 331.2 362.3 331.3 363.9 330.5 365.6 330 367.2 330.6 368.8 329.2 370.5 330.1 372.1 329.2 373.8 328.8 375.4 329.6 377.1 331.3 378.7 332.3 380.3 332.5 382 334.1 383.6 334.5 385.3 335.5 386.9 337.1 388.6 337 390.2 338.4 391.8 339.8 393.5 339.8 395.1 340.4 396.8 341.3 398.4 341.6 400.1 342.3 401.7 343.2 403.3 343 405 342 406.6 342.5 408.3 342.3 409.9 342.1 411.6 343.7 413.2 344.5 414.8 346.6 416.5 345.9 418.1 344.7 419.8 345 421.4 349.8 423 352.8 424.7 353.4 426.3 352.3 428 353.3 429.6 353.1 431.3 353.8 432.9 354.3 434.5 355.6 436.2 357.4 437.8 358 439.5 359.8 441.1 360.1 442.8 361.2 444.4 362.5 446 362.3 447.7 363 449.3 364.3 451 365.2 452.6 366.5 454.3 367.4 455.9 367.9 457.5 367.8 459.2 368.8 460.8 369.8 462.5 370.5 464.1 370.7 465.8 370.6 467.4 371 469 372 470.7 373.1 472.3 373.3 474 373 475.6 374.7 477.2 375.1 478.9 375.7 480.5 374.8 482.2 375.5 483.8 374.8 485.5 375.3 487.1 375.8 488.7 376.3 490.4 375.9 492 375.7 493.7 375.7" stroke="#1f77b4" stroke-width="1.1" fill="none" stroke-linejoin="round"/>
<path d="M42 369.7v4M43.6 370.2v4M45.3 370.1v4M46.9 369.9v4M48.6 370v4M50.2 370.6v4M51.9 370.8v4M53.5 371v4M55.1 371.5v4M56.8 371.6v4M58.4 372.3v4M60.1 373.1v4M61.7 374.1v4M63.4 374.2v4M65 374.4v4M66.6 375.1v4M68.3 375.5v4M69.9 375.9v4M71.6 376.9v4M73.2 377.2v4M74.8 377.9v4M76.5 379.8v4M78.1 380.6v4M79.8 380.2v4M81.4 381.4v4M83.1 383v4M84.7 384.7v4M86.3 386.2v4M88 388.1v4M89.6 390.1v4M91.3 390.4v4M92.9 391.7v4M94.6 393.2v4M96.2 393.9v4M97.8 396v4M99.5 396.3v4M101.1 397.3v4M102.8 397.8v4M104.4 398.9v4M106.1 400.4v4M107.7 401.7v4M109.3 402.1v4M111 404.5v4M112.6 405.4v4M114.3 406.4v4M115.9 407.1v4M117.6 408.7v4M119.2 409.9v4M120.8 411.4v4M122.5 411.7v4M124.1 413.6v4M125.8 414.3v4M127.4 414.8v4M129 416.8v4M130.7 417.6v4M132.3 417.8v4M134 418.5v4M135.6 419.3v4M137.3 419.8v4M138.9 420.6v4M140.5 420.6v4M142.2 421.2v4M143.8 421.4v4M145.5 423.3v4M147.1 423.8v4M148.8 423.7v4M150.4 425v4M152 425.5v4M153.7 426.4v4M155.3 426.5v4M157 426.9v4M158.6 426.1v4M160.3 426.8v4M161.9 427.5v4M163.5 426.5v4M165.2 427.1v4M166.8 426.8v4M168.5 426.3v4M170.1 427.2v4M171.8 427v4M173.4 427.7v4M175 428.6v4M176.7 428.8v4M178.3 428.2v4M180 428.3v4M181.6 429.4v4M183.3 429.7v4M184.9 429.9v4M186.5 429.7v4M188.2 429.2v4M189.8 430v4M191.5 430.5v4M193.1 428.8v4M194.7 427.8v4M196.4 424.9v4M198 423.5v4M199.7 421.3v4M201.3 420.8v4M203 421.9v4M204.6 422.2v4M206.2 422.7v4M207.9 422.7v4M209.5 423.8v4M211.2 424.4v4M212.8 424.9v4M214.5 425.7v4M216.1 425.2v4M217.7 425.7v4M219.4 426.8v4M221 426.9v4M222.7 427.8v4M224.3 427.7v4M226 427.8v4M227.6 427.8v4M229.2 427.5v4M230.9 427.4v4M232.5 427.4v4M234.2 426.1v4M235.8 425.8v4M237.5 425.6v4M239.1 426.1v4M240.7 425.3v4M242.4 424.8v4M244 424.3v4M245.7 424.5v4M247.3 424.2v4M248.9 424.4v4M250.6 422.9v4M252.2 422.9v4M253.9 421.9v4M255.5 422v4M257.2 421.9v4M258.8 420.3v4M260.4 420.8v4M262.1 419.2v4M263.7 418.7v4M265.4 418.9v4M267 418.3v4M268.7 417.2v4M270.3 417.5v4M271.9 415.6v4M273.6 414.3v4M275.2 411.7v4M276.9 407.7v4M278.5 402.9v4M280.2 398v4M281.8 392.6v4M283.4 387.3v4M285.1 382.7v4M286.7 377.3v4M288.4 371.5v4M290 366.7v4M291.7 362.2v4M293.3 358.1v4M294.9 354.2v4M296.6 350.3v4M298.2 348v4M299.9 344.2v4M301.5 342v4M303.1 340.8v4M304.8 338.1v4M306.4 336.8v4M308.1 336.8v4M309.7 336.1v4M311.4 335.3v4M313 335.2v4M314.6 334.3v4M316.3 332.8v4M317.9 333.3v4M319.6 332.3v4M321.2 332v4M322.9 333v4M324.5 332.3v4M326.1 332v4M327.8 331.2v4M329.4 331.2v4M331.1 331.1v4M332.7 330.8v4M334.4 329.7v4M336 329.5v4M337.6 328.9v4M339.3 329.1v4M340.9 329.4v4M342.6 329.5v4M344.2 330.4v4M345.9 329.3v4M347.5 329.9v4M349.1 329.5v4M350.8 329.8v4M352.4 329.6v4M354.1 330v4M355.7 329.2v4M357.4 329.3v4M359 329.2v4M360.6 329.2v4M362.3 329.3v4M363.9 328.5v4M365.6 328v4M367.2 328.6v4M368.8 327.2v4M370.5 328.1v4M372.1 327.2v4M373.8 326.8v4M375.4 327.6v4M377.1 329.3v4M378.7 330.3v4M380.3 330.5v4M382 332.1v4M383.6 332.5v4M385.3 333.5v4M386.9 335.1v4M388.6 335v4M390.2 336.4v4M391.8 337.8v4M393.5 337.8v4M395.1 338.4v4M396.8 339.3v4M398.4 339.6v4M400.1 340.3v4M401.7 341.2v4M403.3 341v4M405 340v4M406.6 340.5v4M408.3 340.3v4M409.9 340.1v4M411.6 341.7v4M413.2 342.5v4M414.8 344.6v4M416.5 343.9v4M418.1 342.7v4M419.8 343v4M421.4 347.8v4M423 350.8v4M424.7 351.4v4M426.3 350.3v4M428 351.3v4M429.6 351.1v4M431.3 351.8v4M432.9 352.3v4M434.5 353.6v4M436.2 355.4v4M437.8 356v4M439.5 357.8v4M441.1 358.1v4M442.8 359.2v4M444.4 360.5v4M446 360.3v4M447.7 361v4M449.3 362.3v4M451 363.2v4M452.6 364.5v4M454.3 365.4v4M455.9 365.9v4M457.5 365.8v4M459.2 366.8v4M460.8 367.8v4M462.5 368.5v4M464.1 368.7v4M465.8 368.6v4M467.4 369v4M469 370v4M470.7 371.1v4M472.3 371.3v4M474 371v4M475.6 372.7v4M477.2 373.1v4M478.9 373.7v4M480.5 372.8v4M482.2 373.5v4M483.8 372.8v4M485.5 373.3v4M487.1 373.8v4M488.7 374.3v4M490.4 373.9v4M492 373.7v4M493.7 373.7v4" stroke="#1f77b4" stroke-width="0.9" fill="none" stroke-opacity="0.85"/>
<path d="M42 376.8 58 377.6 66 380 72.4 385.6 77.2 387.2 82 392.8 86.8 400 91.6 407.2 98 409.6 104.4 420 110.8 419.2 117.2 423.2 120 428 124.8 429.6 131.2 424.8 137.6 426.4 144 428 152 431.2 160 432 168 431.2 174.4 428 177.6 424.8 184 426.4 192 426.4 200 424 207 423 209.5 420.1 219.2 415.3 231.2 405.9 243.3 394.1 250.6 384.4 257.8 365.1 265 350.6 270 342.9 280.4 332.5 290.8 322.1 296 326 306.4 313 311.6 314.3 321.9 328.6 332.3 318.2 342.7 309.1 345 309.6 351.4 316 354.6 312 359.4 316 365.8 325.6 372.2 331.2 380.2 335.2 388.2 340 396.2 346.4 402.6 352.8 409 351.2 413.8 355.2 415 354.4 421.4 364.8 427.8 368 434.2 370.4 442.2 372 451.8 369.6 463 372.8 471 374.4 479 376 493.7 377.6" stroke="#ff7f0e" stroke-width="1.5" fill="none" stroke-linejoin="round" stroke-linecap="square"/>
<path d="M42 376.4 43.6 376.3 45.3 376.2 46.9 376.5 48.6 376.5 50.2 377 51.9 376.8 53.5 377.2 55.1 377.9 56.8 377.9 58.4 378 60.1 379.1 61.7 379.1 63.4 379.6 65 378.6 66.6 380.2 68.3 379.8 69.9 381 71.6 382.2 73.2 383.1 74.8 383.6 76.5 385.3 78.1 386.3 79.8 387 81.4 387.4 83.1 388.8 84.7 390.9 86.3 392 88 393.6 89.6 396 91.3 396.3 92.9 397.3 94.6 398.1 96.2 398.8 97.8 399.8 99.5 400.5 101.1 402.4 102.8 404 104.4 404.6 106.1 405.1 107.7 407 109.3 407.3 111 408.2 112.6 409.6 114.3 409.3 115.9 411.5 117.6 414.2 119.2 416.1 120.8 417.1 122.5 417.9 124.1 418.6 125.8 419.3 127.4 419.8 129 420.4 130.7 421.8 132.3 422.1 134 422.2 135.6 422.3 137.3 422.5 138.9 424.1 140.5 424.6 142.2 424.9 143.8 426.8 145.5 428 147.1 428 148.8 428.9 150.4 430.4 152 431.4 153.7 431.7 155.3 431 157 431.5 158.6 430.7 160.3 431.1 161.9 431 163.5 431.1 165.2 431 166.8 431.4 168.5 431.1 170.1 430.6 171.8 430.8 173.4 430.3 175 430.8 176.7 430.8 178.3 430.2 180 430.4 181.6 430.6 183.3 430.6 184.9 430.9 186.5 431.2 188.2 432 189.8 431.3 191.5 431.3 193.1 431.3 194.7 431.4 196.4 431.6 198 432 199.7 430.5 201.3 431.5 203 430.6 204.6 430.8 206.2 430.9 207.9 430.9 209.5 430.9 211.2 431.3 212.8 430.8 214.5 430.6 216.1 430.2 217.7 430.5 219.4 431.1 221 430.6 222.7 431 224.3 430.1 226 430.8 227.6 429.7 229.2 430 230.9 429.3 232.5 429 234.2 428.2 235.8 428.9 237.5 427.9 239.1 428 240.7 427.5 242.4 427.4 244 426.6 245.7 426.6 247.3 425.7 248.9 426.5 250.6 425.7 252.2 424.2 253.9 423.8 255.5 422.7 257.2 422.8 258.8 421.7 260.4 421.6 262.1 421.4 263.7 419.7 265.4 418.2 267 417.6 268.7 415.6 270.3 413.7 271.9 410.8 273.6 406.7 275.2 403.8 276.9 401.2 278.5 397.5 280.2 393.6 281.8 389.2 283.4 384.8 285.1 379.8 286.7 374 288.4 367.9 290 363.1 291.7 357.6 293.3 354.1 294.9 350.9 296.6 348.4 298.2 345.7 299.9 344.2 301.5 340.9 303.1 339.1 304.8 337 306.4 335.6 308.1 335.8 309.7 335.3 311.4 336.4 313 337.2 314.6 337.9 316.3 338.4 317.9 340.8 319.6 343.5 321.2 340.9 322.9 338.7 324.5 336.6 326.1 336.1 327.8 334.9 329.4 334.2 331.1 332.7 332.7 331.7 334.4 331.6 336 331 337.6 330 339.3 329.6 340.9 327.9 342.6 329.3 344.2 329.3 345.9 329.4 347.5 328.8 349.1 329 350.8 329.4 352.4 329.4 354.1 328.4 355.7 328.9 357.4 330.1 359 330.5 360.6 331.5 362.3 333.7 363.9 335.3 365.6 336.8 367.2 338.2 368.8 340.2 370.5 340.6 372.1 339.9 373.8 339.9 375.4 339.1 377.1 339.9 378.7 339.4 380.3 340.9 382 340.6 383.6 342.1 385.3 342.1 386.9 342.8 388.6 344 390.2 343.5 391.8 344.5 393.5 346.2 395.1 346.4 396.8 347.7 398.4 349.3 400.1 350.9 401.7 354 403.3 354.1 405 354.3 406.6 353.3 408.3 352.8 409.9 352.6 411.6 353.6 413.2 355.5 414.8 355.6 416.5 357.1 418.1 358.2 419.8 359.5 421.4 360.5 423 362.9 424.7 362.8 426.3 362.4 428 364 429.6 363.3 431.3 363.6 432.9 364.5 434.5 363.7 436.2 363.7 437.8 363.3 439.5 363.3 441.1 363.2 442.8 363.9 444.4 364.9 446 364.8 447.7 364.7 449.3 365.6 451 365.3 452.6 365.6 454.3 366.7 455.9 367.1 457.5 367.5 459.2 366.5 460.8 366.6 462.5 365 464.1 365.7 465.8 364.5 467.4 364.4 469 364.8 470.7 365.8 472.3 365.9 474 367.2 475.6 366.9 477.2 367.9 478.9 368.3 480.5 368.4 482.2 369 483.8 369.5 485.5 369.1 487.1 368.7 488.7 369.3 490.4 369.4 492 370.1 493.7 370.3" stroke="#ff7f0e" stroke-width="1.1" fill="none" stroke-linejoin="round"/>
<path d="M42 374.4v4M43.6 374.3v4M45.3 374.2v4M46.9 374.5v4M48.6 374.5v4M50.2 375v4M51.9 374.8v4M53.5 375.2v4M55.1 375.9v4M56.8 375.9v4M58.4 376v4M60.1 377.1v4M61.7 377.1v4M63.4 377.6v4M65 376.6v4M66.6 378.2v4M68.3 377.8v4M69.9 379v4M71.6 380.2v4M73.2 381.1v4M74.8 381.6v4M76.5 383.3v4M78.1 384.3v4M79.8 385v4M81.4 385.4v4M83.1 386.8v4M84.7 388.9v4M86.3 390v4M88 391.6v4M89.6 394v4M91.3 394.3v4M92.9 395.3v4M94.6 396.1v4M96.2 396.8v4M97.8 397.8v4M99.5 398.5v4M101.1 400.4v4M102.8 402v4M104.4 402.6v4M106.1 403.1v4M107.7 405v4M109.3 405.3v4M111 406.2v4M112.6 407.6v4M114.3 407.3v4M115.9 409.5v4M117.6 412.2v4M119.2 414.1v4M120.8 415.1v4M122.5 415.9v4M124.1 416.6v4M125.8 417.3v4M127.4 417.8v4M129 418.4v4M130.7 419.8v4M132.3 420.1v4M134 420.2v4M135.6 420.3v4M137.3 420.5v4M138.9 422.1v4M140.5 422.6v4M142.2 422.9v4M143.8 424.8v4M145.5 426v4M147.1 426v4M148.8 426.9v4M150.4 428.4v4M152 429.4v4M153.7 429.7v4M155.3 429v4M157 429.5v4M158.6 428.7v4M160.3 429.1v4M161.9 429v4M163.5 429.1v4M165.2 429v4M166.8 429.4v4M168.5 429.1v4M170.1 428.6v4M171.8 428.8v4M173.4 428.3v4M175 428.8v4M176.7 428.8v4M178.3 428.2v4M180 428.4v4M181.6 428.6v4M183.3 428.6v4M184.9 428.9v4M186.5 429.2v4M188.2 430v4M189.8 429.3v4M191.5 429.3v4M193.1 429.3v4M194.7 429.4v4M196.4 429.6v4M198 430v4M199.7 428.5v4M201.3 429.5v4M203 428.6v4M204.6 428.8v4M206.2 428.9v4M207.9 428.9v4M209.5 428.9v4M211.2 429.3v4M212.8 428.8v4M214.5 428.6v4M216.1 428.2v4M217.7 428.5v4M219.4 429.1v4M221 428.6v4M222.7 429v4M224.3 428.1v4M226 428.8v4M227.6 427.7v4M229.2 428v4M230.9 427.3v4M232.5 427v4M234.2 426.2v4M235.8 426.9v4M237.5 425.9v4M239.1 426v4M240.7 425.5v4M242.4 425.4v4M244 424.6v4M245.7 424.6v4M247.3 423.7v4M248.9 424.5v4M250.6 423.7v4M252.2 422.2v4M253.9 421.8v4M255.5 420.7v4M257.2 420.8v4M258.8 419.7v4M260.4 419.6v4M262.1 419.4v4M263.7 417.7v4M265.4 416.2v4M267 415.6v4M268.7 413.6v4M270.3 411.7v4M271.9 408.8v4M273.6 404.7v4M275.2 401.8v4M276.9 399.2v4M278.5 395.5v4M280.2 391.6v4M281.8 387.2v4M283.4 382.8v4M285.1 377.8v4M286.7 372v4M288.4 365.9v4M290 361.1v4M291.7 355.6v4M293.3 352.1v4M294.9 348.9v4M296.6 346.4v4M298.2 343.7v4M299.9 342.2v4M301.5 338.9v4M303.1 337.1v4M304.8 335v4M306.4 333.6v4M308.1 333.8v4M309.7 333.3v4M311.4 334.4v4M313 335.2v4M314.6 335.9v4M316.3 336.4v4M317.9 338.8v4M319.6 341.5v4M321.2 338.9v4M322.9 336.7v4M324.5 334.6v4M326.1 334.1v4M327.8 332.9v4M329.4 332.2v4M331.1 330.7v4M332.7 329.7v4M334.4 329.6v4M336 329v4M337.6 328v4M339.3 327.6v4M340.9 325.9v4M342.6 327.3v4M344.2 327.3v4M345.9 327.4v4M347.5 326.8v4M349.1 327v4M350.8 327.4v4M352.4 327.4v4M354.1 326.4v4M355.7 326.9v4M357.4 328.1v4M359 328.5v4M360.6 329.5v4M362.3 331.7v4M363.9 333.3v4M365.6 334.8v4M367.2 336.2v4M368.8 338.2v4M370.5 338.6v4M372.1 337.9v4M373.8 337.9v4M375.4 337.1v4M377.1 337.9v4M378.7 337.4v4M380.3 338.9v4M382 338.6v4M383.6 340.1v4M385.3 340.1v4M386.9 340.8v4M388.6 342v4M390.2 341.5v4M391.8 342.5v4M393.5 344.2v4M395.1 344.4v4M396.8 345.7v4M398.4 347.3v4M400.1 348.9v4M401.7 352v4M403.3 352.1v4M405 352.3v4M406.6 351.3v4M408.3 350.8v4M409.9 350.6v4M411.6 351.6v4M413.2 353.5v4M414.8 353.6v4M416.5 355.1v4M418.1 356.2v4M419.8 357.5v4M421.4 358.5v4M423 360.9v4M424.7 360.8v4M426.3 360.4v4M428 362v4M429.6 361.3v4M431.3 361.6v4M432.9 362.5v4M434.5 361.7v4M436.2 361.7v4M437.8 361.3v4M439.5 361.3v4M441.1 361.2v4M442.8 361.9v4M444.4 362.9v4M446 362.8v4M447.7 362.7v4M449.3 363.6v4M451 363.3v4M452.6 363.6v4M454.3 364.7v4M455.9 365.1v4M457.5 365.5v4M459.2 364.5v4M460.8 364.6v4M462.5 363v4M464.1 363.7v4M465.8 362.5v4M467.4 362.4v4M469 362.8v4M470.7 363.8v4M472.3 363.9v4M474 365.2v4M475.6 364.9v4M477.2 365.9v4M478.9 366.3v4M480.5 366.4v4M482.2 367v4M483.8 367.5v4M485.5 367.1v4M487.1 366.7v4M488.7 367.3v4M490.4 367.4v4M492 368.1v4M493.7 368.3v4" stroke="#ff7f0e" stroke-width="0.9" fill="none" stroke-opacity="0.85"/>
<path d="M42 400.8 51.6 399.2 61.2 400.8 69.2 404 77.2 409.6 85.2 416.8 93.2 427.2 102.8 430.4 112.4 430.4 120 431.2 129.6 434.4 139.2 435.2 148.8 432 155.2 434.4 168 435.2 176 435.2 184 433.6 195 430.8 207.1 427.1 219.2 423.5 231.2 417.5 243.3 409 250.6 397 260.2 382.5 267.5 372.8 270 371.4 277.8 359.7 285.6 348.1 293.4 345.5 301.2 339 305.1 333.8 314.2 335.1 321.9 329.9 329.7 332.5 340.1 324.7 345 326.4 354.6 325.6 364.2 325.6 373.8 326.4 383.4 327.2 389.8 329.6 394.6 336 401 336.8 409 340 415 336 421.4 335.2 426.2 336 431 347.2 437.4 358.4 443.8 368 448.6 379.2 451.8 384.8 456.6 379.2 463 376 469.4 376.8 475.8 380.8 482.2 382.4 493.7 382.4" stroke="#2ca02c" stroke-width="1.5" fill="none" stroke-linejoin="round" stroke-linecap="square"/>
<path d="M42 401.1 43.6 400.2 45.3 400.8 46.9 400.8 48.6 400.1 50.2 399.5 51.9 399.7 53.5 400.8 55.1 401 56.8 401.5 58.4 401.5 60.1 402.2 61.7 403.8 63.4 404.2 65 404 66.6 405.5 68.3 405.7 69.9 406.3 71.6 407.4 73.2 408.2 74.8 407.9 76.5 409.3 78.1 410.8 79.8 411.7 81.4 413.3 83.1 414.3 84.7 416.5 86.3 418.2 88 420 89.6 421.6 91.3 422.2 92.9 422.9 94.6 424.9 96.2 424.9 97.8 425.8 99.5 426.6 101.1 427.7 102.8 427.6 104.4 428.6 106.1 428.9 107.7 429.3 109.3 429.6 111 430.1 112.6 430.6 114.3 430 115.9 431.1 117.6 431.5 119.2 432.1 120.8 433.4 122.5 433.6 124.1 434.7 125.8 434.1 127.4 434.7 129 435 130.7 434.9 132.3 436.2 134 435.4 135.6 435.5 137.3 435.5 138.9 435.1 140.5 435.9 142.2 435.5 143.8 435.7 145.5 434.8 147.1 434.2 148.8 433.3 150.4 433.4 152 433.8 153.7 435.6 155.3 436.5 157 435.7 158.6 435.6 160.3 435.9 161.9 436.8 163.5 436.3 165.2 436.5 166.8 436.1 168.5 436.1 170.1 436.5 171.8 435.8 173.4 436.5 175 435.5 176.7 436.1 178.3 436.2 180 435.4 181.6 435.6 183.3 434.7 184.9 435.1 186.5 435.4 188.2 434.2 189.8 434 191.5 434.4 193.1 433.7 194.7 433.9 196.4 434 198 433.6 199.7 433.3 201.3 432.8 203 433.3 204.6 432.7 206.2 432.5 207.9 432.8 209.5 431.9 211.2 431.7 212.8 431.9 214.5 431.3 216.1 431.4 217.7 431.1 219.4 431 221 431.2 222.7 430.8 224.3 431.1 226 429.9 227.6 430 229.2 429.9 230.9 429.3 232.5 428.8 234.2 428.7 235.8 429.4 237.5 428.7 239.1 427.7 240.7 428.5 242.4 428.2 244 427 245.7 427 247.3 427 248.9 427.5 250.6 426.2 252.2 426.3 253.9 425.9 255.5 425.5 257.2 424 258.8 423.7 260.4 422.5 262.1 421.3 263.7 420.3 265.4 418.5 267 418 268.7 416.1 270.3 415.7 271.9 414.4 273.6 412.6 275.2 411.8 276.9 409.2 278.5 407.3 280.2 404 281.8 400.4 283.4 395.2 285.1 389.2 286.7 385.4 288.4 380.8 290 377.1 291.7 373.7 293.3 369.6 294.9 364.7 296.6 360.5 298.2 357.9 299.9 354.5 301.5 351.7 303.1 348.5 304.8 346.4 306.4 344.7 308.1 343.3 309.7 342.3 311.4 341.5 313 340.5 314.6 338.7 316.3 338.5 317.9 337.4 319.6 337 321.2 335.7 322.9 336 324.5 335.1 326.1 334.6 327.8 333.5 329.4 333.5 331.1 332.8 332.7 331.4 334.4 331.2 336 330.2 337.6 330.3 339.3 329.7 340.9 329.3 342.6 328.6 344.2 328.2 345.9 328.3 347.5 329.1 349.1 329.5 350.8 329.3 352.4 329.9 354.1 330.9 355.7 329.8 357.4 329.7 359 330.1 360.6 329.3 362.3 329.8 363.9 329.1 365.6 329.2 367.2 329.4 368.8 328.8 370.5 328.7 372.1 329.5 373.8 328.8 375.4 329.7 377.1 329.8 378.7 329 380.3 329.2 382 330.7 383.6 330.6 385.3 331 386.9 331.7 388.6 331.7 390.2 332 391.8 333.4 393.5 335 395.1 337.1 396.8 338.3 398.4 338.2 400.1 338.5 401.7 339.2 403.3 339.6 405 339.6 406.6 339.6 408.3 340.4 409.9 339 411.6 338 413.2 337.8 414.8 336.3 416.5 337.2 418.1 336.5 419.8 337.5 421.4 336.7 423 337.4 424.7 336.4 426.3 338.8 428 340.8 429.6 343.9 431.3 348.2 432.9 350.8 434.5 353.1 436.2 355.8 437.8 358.1 439.5 360.2 441.1 363.1 442.8 366.1 444.4 368.6 446 370.2 447.7 373.4 449.3 375.8 451 376.4 452.6 374.4 454.3 373.6 455.9 371.9 457.5 371.1 459.2 371 460.8 369.8 462.5 370.1 464.1 369.3 465.8 369.2 467.4 370.2 469 370.7 470.7 371.2 472.3 370.9 474 372.5 475.6 373.4 477.2 372.8 478.9 374.1 480.5 375.2 482.2 374 483.8 374.6 485.5 375.7 487.1 374.9 488.7 374.6 490.4 374.7 492 375.5 493.7 375.7" stroke="#2ca02c" stroke-width="1.1" fill="none" stroke-linejoin="round"/>
<path d="M42 399.1v4M43.6 398.2v4M45.3 398.8v4M46.9 398.8v4M48.6 398.1v4M50.2 397.5v4M51.9 397.7v4M53.5 398.8v4M55.1 399v4M56.8 399.5v4M58.4 399.5v4M60.1 400.2v4M61.7 401.8v4M63.4 402.2v4M65 402v4M66.6 403.5v4M68.3 403.7v4M69.9 404.3v4M71.6 405.4v4M73.2 406.2v4M74.8 405.9v4M76.5 407.3v4M78.1 408.8v4M79.8 409.7v4M81.4 411.3v4M83.1 412.3v4M84.7 414.5v4M86.3 416.2v4M88 418v4M89.6 419.6v4M91.3 420.2v4M92.9 420.9v4M94.6 422.9v4M96.2 422.9v4M97.8 423.8v4M99.5 424.6v4M101.1 425.7v4M102.8 425.6v4M104.4 426.6v4M106.1 426.9v4M107.7 427.3v4M109.3 427.6v4M111 428.1v4M112.6 428.6v4M114.3 428v4M115.9 429.1v4M117.6 429.5v4M119.2 430.1v4M120.8 431.4v4M122.5 431.6v4M124.1 432.7v4M125.8 432.1v4M127.4 432.7v4M129 433v4M130.7 432.9v4M132.3 434.2v4M134 433.4v4M135.6 433.5v4M137.3 433.5v4M138.9 433.1v4M140.5 433.9v4M142.2 433.5v4M143.8 433.7v4M145.5 432.8v4M147.1 432.2v4M148.8 431.3v4M150.4 431.4v4M152 431.8v4M153.7 433.6v4M155.3 434.5v4M157 433.7v4M158.6 433.6v4M160.3 433.9v4M161.9 434.8v4M163.5 434.3v4M165.2 434.5v4M166.8 434.1v4M168.5 434.1v4M170.1 434.5v4M171.8 433.8v4M173.4 434.5v4M175 433.5v4M176.7 434.1v4M178.3 434.2v4M180 433.4v4M181.6 433.6v4M183.3 432.7v4M184.9 433.1v4M186.5 433.4v4M188.2 432.2v4M189.8 432v4M191.5 432.4v4M193.1 431.7v4M194.7 431.9v4M196.4 432v4M198 431.6v4M199.7 431.3v4M201.3 430.8v4M203 431.3v4M204.6 430.7v4M206.2 430.5v4M207.9 430.8v4M209.5 429.9v4M211.2 429.7v4M212.8 429.9v4M214.5 429.3v4M216.1 429.4v4M217.7 429.1v4M219.4 429v4M221 429.2v4M222.7 428.8v4M224.3 429.1v4M226 427.9v4M227.6 428v4M229.2 427.9v4M230.9 427.3v4M232.5 426.8v4M234.2 426.7v4M235.8 427.4v4M237.5 426.7v4M239.1 425.7v4M240.7 426.5v4M242.4 426.2v4M244 425v4M245.7 425v4M247.3 425v4M248.9 425.5v4M250.6 424.2v4M252.2 424.3v4M253.9 423.9v4M255.5 423.5v4M257.2 422v4M258.8 421.7v4M260.4 420.5v4M262.1 419.3v4M263.7 418.3v4M265.4 416.5v4M267 416v4M268.7 414.1v4M270.3 413.7v4M271.9 412.4v4M273.6 410.6v4M275.2 409.8v4M276.9 407.2v4M278.5 405.3v4M280.2 402v4M281.8 398.4v4M283.4 393.2v4M285.1 387.2v4M286.7 383.4v4M288.4 378.8v4M290 375.1v4M291.7 371.7v4M293.3 367.6v4M294.9 362.7v4M296.6 358.5v4M298.2 355.9v4M299.9 352.5v4M301.5 349.7v4M303.1 346.5v4M304.8 344.4v4M306.4 342.7v4M308.1 341.3v4M309.7 340.3v4M311.4 339.5v4M313 338.5v4M314.6 336.7v4M316.3 336.5v4M317.9 335.4v4M319.6 335v4M321.2 333.7v4M322.9 334v4M324.5 333.1v4M326.1 332.6v4M327.8 331.5v4M329.4 331.5v4M331.1 330.8v4M332.7 329.4v4M334.4 329.2v4M336 328.2v4M337.6 328.3v4M339.3 327.7v4M340.9 327.3v4M342.6 326.6v4M344.2 326.2v4M345.9 326.3v4M347.5 327.1v4M349.1 327.5v4M350.8 327.3v4M352.4 327.9v4M354.1 328.9v4M355.7 327.8v4M357.4 327.7v4M359 328.1v4M360.6 327.3v4M362.3 327.8v4M363.9 327.1v4M365.6 327.2v4M367.2 327.4v4M368.8 326.8v4M370.5 326.7v4M372.1 327.5v4M373.8 326.8v4M375.4 327.7v4M377.1 327.8v4M378.7 327v4M380.3 327.2v4M382 328.7v4M383.6 328.6v4M385.3 329v4M386.9 329.7v4M388.6 329.7v4M390.2 330v4M391.8 331.4v4M393.5 333v4M395.1 335.1v4M396.8 336.3v4M398.4 336.2v4M400.1 336.5v4M401.7 337.2v4M403.3 337.6v4M405 337.6v4M406.6 337.6v4M408.3 338.4v4M409.9 337v4M411.6 336v4M413.2 335.8v4M414.8 334.3v4M416.5 335.2v4M418.1 334.5v4M419.8 335.5v4M421.4 334.7v4M423 335.4v4M424.7 334.4v4M426.3 336.8v4M428 338.8v4M429.6 341.9v4M431.3 346.2v4M432.9 348.8v4M434.5 351.1v4M436.2 353.8v4M437.8 356.1v4M439.5 358.2v4M441.1 361.1v4M442.8 364.1v4M444.4 366.6v4M446 368.2v4M447.7 371.4v4M449.3 373.8v4M451 374.4v4M452.6 372.4v4M454.3 371.6v4M455.9 369.9v4M457.5 369.1v4M459.2 369v4M460.8 367.8v4M462.5 368.1v4M464.1 367.3v4M465.8 367.2v4M467.4 368.2v4M469 368.7v4M470.7 369.2v4M472.3 368.9v4M474 370.5v4M475.6 371.4v4M477.2 370.8v4M478.9 372.1v4M480.5 373.2v4M482.2 372v4M483.8 372.6v4M485.5 373.7v4M487.1 372.9v4M488.7 372.6v4M490.4 372.7v4M492 373.5v4M493.7 373.7v4" stroke="#2ca02c" stroke-width="0.9" fill="none" stroke-opacity="0.85"/>
</g>
<rect x="42" y="302.6" width="452" height="141.7" fill="none" stroke="#555" stroke-width="0.8"/>
<path d="M39.2 441H42M39.2 411.1H42M39.2 381.2H42M39.2 351.3H42M39.2 321.4H42M42 444.3V447.1M92.9 444.3V447.1M142.2 444.3V447.1M193.1 444.3V447.1M244 444.3V447.1M293.3 444.3V447.1M344.2 444.3V447.1M393.5 444.3V447.1M444.4 444.3V447.1" stroke="#555" stroke-width="0.8" fill="none"/>
<text x="36.4" y="445" text-anchor="end" textLength="6" lengthAdjust="spacingAndGlyphs">0</text>
<text x="36.4" y="415.1" text-anchor="end" textLength="6" lengthAdjust="spacingAndGlyphs">1</text>
<text x="36.4" y="385.2" text-anchor="end" textLength="6" lengthAdjust="spacingAndGlyphs">2</text>
<text x="36.4" y="355.3" text-anchor="end" textLength="6" lengthAdjust="spacingAndGlyphs">3</text>
<text x="36.4" y="325.4" text-anchor="end" textLength="6" lengthAdjust="spacingAndGlyphs">4</text>
<text x="42.3" y="301.2" text-anchor="start" textLength="24.6" lengthAdjust="spacingAndGlyphs">1e15</text>
<text x="267.6" y="298.6" text-anchor="middle" textLength="228.2" lengthAdjust="spacingAndGlyphs">Antarctic HCl column: 30-100hPa in lat-90to-65</text>
<text x="26.6" y="373.4" text-anchor="middle" textLength="84.4" lengthAdjust="spacingAndGlyphs" transform="rotate(-90 26.6 373.4)">HCl [molec/cm2]</text>
<rect x="46.8" y="308" width="86.6" height="45.6" rx="2" ry="2" fill="#fff" fill-opacity="0.8" stroke="#d6d6d6" stroke-width="0.8"/>
<path d="M50.2 316H70.2" stroke="#1f77b4" stroke-width="1.5"/>
<text x="77.6" y="319.1" text-anchor="start" textLength="53.1" lengthAdjust="spacingAndGlyphs">2008-2009</text>
<path d="M50.2 330H70.2" stroke="#ff7f0e" stroke-width="1.5"/>
<text x="77.6" y="333.5" text-anchor="start" textLength="53.1" lengthAdjust="spacingAndGlyphs">2009-2010</text>
<path d="M50.2 344H70.2" stroke="#2ca02c" stroke-width="1.5"/>
<text x="77.6" y="347.8" text-anchor="start" textLength="53.1" lengthAdjust="spacingAndGlyphs">2020-2021</text>
<path d="M42 525.5H494M42 497.5H494M42 469.5H494M42 458.4V538.5M92.9 458.4V538.5M142.2 458.4V538.5M193.1 458.4V538.5M244 458.4V538.5M293.3 458.4V538.5M344.2 458.4V538.5M393.5 458.4V538.5M444.4 458.4V538.5" stroke="#c4c4c4" stroke-width="0.8" fill="none"/>
<path d="M42 525.5H494" stroke="#444" stroke-width="1"/>
<clipPath id="c4"><rect x="42" y="458.4" width="452" height="80.1"/></clipPath><g clip-path="url(#c4)">
<path d="M42 525.6 82 527 102 530.4 112 531.6 122 532.4 132 533 138 534.4 140 533.6 148 532 154 535 166 532 170 533.6 180 529 192 526 204 520 210 512 216 501 224 496 230 488 231 484 234 477 240 473 244 472 250 475 255 466 257 462 260 469 264 471 268 478 271 477 276 488 282 504 288 513 294 518 302 521 314 522.4 330 523 335 523.8 396 524.5 436 526.5 494 525.5" stroke="#1f77b4" stroke-width="1.5" fill="none" stroke-linejoin="round" stroke-linecap="square"/>
<path d="M42 525.6 62 526 82 527.6 102 531 112 531.6 122 531 128 529 136 528.4 140 528 146 529.6 160 527 172 524 184 520 192 515 200 511 210 504 216 500 222 495 228 490 231 488.4 238 493 244 488 248 478 251 469 254 470 258 478 263 485 267 482 272 490 278 502 284 511 290 518 298 521.6 310 522.4 330 523.6 335 523.5 396 525 436 527.5 494 526" stroke="#ff7f0e" stroke-width="1.5" fill="none" stroke-linejoin="round" stroke-linecap="square"/>
<path d="M42 525.6 52 524.4 62 523.6 72 525 82 527 92 528.4 102 530 110 527 118 522.4 122 524 128 525 134 520.4 140 521 146 520 154 517.6 160 518 168 515 176 513 180 515.6 188 516 194 512.4 200 514 208 515 214 516.4 222 512 228 510.4 231 505 235 510 240 505 246 504 254 494 259 491 262 495 266 496 272 501 278 502 284 509 290 517 298 521.6 310 524 330 525 335 524.9 396 525 436 527 494 526" stroke="#2ca02c" stroke-width="1.5" fill="none" stroke-linejoin="round" stroke-linecap="square"/>
</g>
<rect x="42" y="458.4" width="452" height="80.1" fill="none" stroke="#555" stroke-width="0.8"/>
<path d="M39.2 525.5H42M39.2 497.5H42M39.2 469.5H42M42 538.5V541.3M92.9 538.5V541.3M142.2 538.5V541.3M193.1 538.5V541.3M244 538.5V541.3M293.3 538.5V541.3M344.2 538.5V541.3M393.5 538.5V541.3M444.4 538.5V541.3" stroke="#555" stroke-width="0.8" fill="none"/>
<text x="36.4" y="529.5" text-anchor="end" textLength="6" lengthAdjust="spacingAndGlyphs">0</text>
<text x="36.4" y="501.5" text-anchor="end" textLength="17.9" lengthAdjust="spacingAndGlyphs">200</text>
<text x="36.4" y="473.5" text-anchor="end" textLength="17.9" lengthAdjust="spacingAndGlyphs">400</text>
<text x="42" y="551.9" text-anchor="middle" textLength="26.4" lengthAdjust="spacingAndGlyphs">1May</text>
<text x="92.9" y="551.9" text-anchor="middle" textLength="21.4" lengthAdjust="spacingAndGlyphs">1Jun</text>
<text x="142.2" y="551.9" text-anchor="middle" textLength="18" lengthAdjust="spacingAndGlyphs">1Jul</text>
<text x="193.1" y="551.9" text-anchor="middle" textLength="25.2" lengthAdjust="spacingAndGlyphs">1Aug</text>
<text x="244" y="551.9" text-anchor="middle" textLength="24.6" lengthAdjust="spacingAndGlyphs">1Sep</text>
<text x="293.3" y="551.9" text-anchor="middle" textLength="23.1" lengthAdjust="spacingAndGlyphs">1Oct</text>
<text x="344.2" y="551.9" text-anchor="middle" textLength="25.2" lengthAdjust="spacingAndGlyphs">1Nov</text>
<text x="393.5" y="551.9" text-anchor="middle" textLength="25.1" lengthAdjust="spacingAndGlyphs">1Dec</text>
<text x="444.4" y="551.9" text-anchor="middle" textLength="21.2" lengthAdjust="spacingAndGlyphs">1Jan</text>
<text x="13" y="498.4" text-anchor="middle" textLength="62.3" lengthAdjust="spacingAndGlyphs" transform="rotate(-90 13 498.4)">NB2 HCl [%]</text>
</svg></body></html>
